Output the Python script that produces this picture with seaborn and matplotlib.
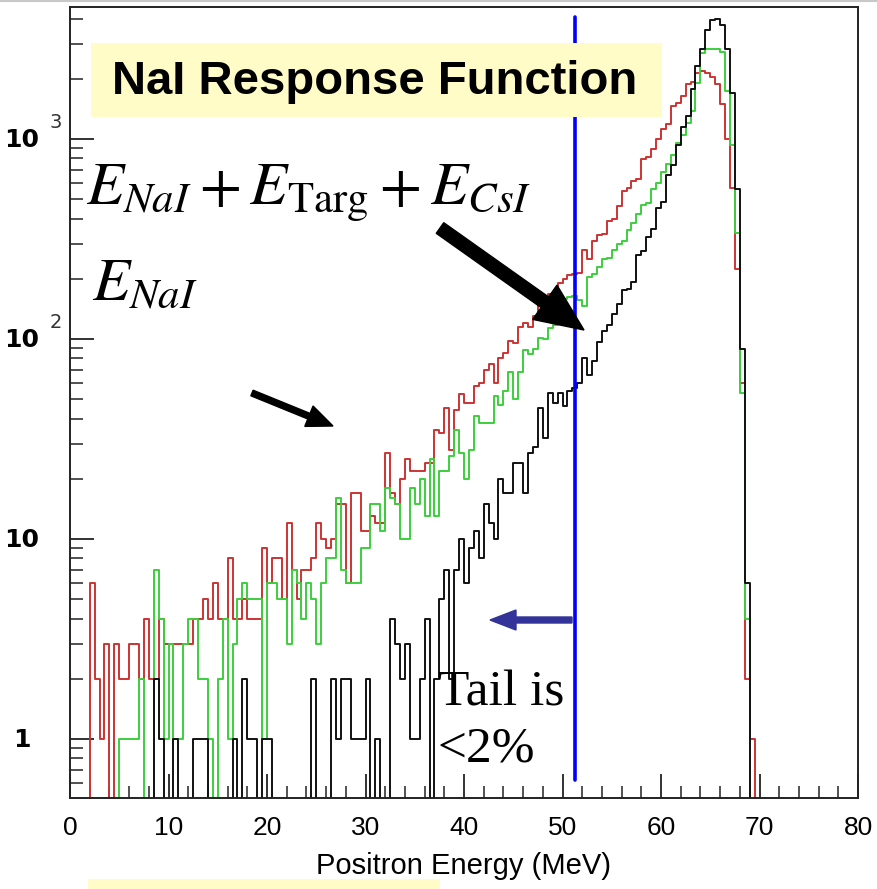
import numpy as np
import pandas as pd
import seaborn as sns
import matplotlib
matplotlib.use("Agg")
import matplotlib.pyplot as plt
from matplotlib.patches import Rectangle, FancyArrow
from matplotlib.lines import Line2D
from matplotlib.ticker import MultipleLocator, NullFormatter, LogLocator
from matplotlib import font_manager

# ---------------- data: counts per 0.5 MeV bin, from 0 to 80 MeV ----------------
bin_width = 0.5
energy_edges = [i * bin_width for i in range(161)]

# red histogram (per bin, starting at 0 MeV)
red_counts = [
    0, 0, 0, 0, 6, 2, 1, 3, 0, 3,            # 0 - 4.5
    2, 2, 3, 3, 2, 4, 2, 2, 4, 3,            # 5 - 9.5
    3, 3, 3, 3, 3, 4, 4, 5, 4, 6,            # 10 - 14.5
    4, 4, 8, 4, 4, 5, 4, 4, 4, 9,            # 15 - 19.5
    6, 8, 8, 5, 12, 7, 5, 7, 7, 8,           # 20 - 24.5
    12, 10, 9, 10, 15, 15, 6, 17, 17, 11,    # 25 - 29.5
    11, 13, 12, 12, 27, 17, 15, 20, 25, 22,  # 30 - 34.5
    22, 22, 24, 24, 35, 34, 45, 28, 44, 53,  # 35 - 39.5
    48, 48, 58, 60, 70, 75, 60, 80, 85, 98,  # 40 - 44.5
    96, 115, 120, 115, 130, 150, 135, 168, 140, 190,        # 45 - 49.5
    200, 210, 212, 215, 280, 250, 310, 330, 335, 390,       # 50 - 54.5
    400, 465, 550, 570, 620, 630, 790, 810, 890, 1000,      # 55 - 59.5
    1120, 1190, 1470, 1520, 1650, 1880, 1920, 2150, 2200, 2150,  # 60 - 64.5
    2050, 1880, 1500, 1000, 570, 225, 60, 2, 1, 0,          # 65 - 69.5
    0, 0, 0, 0, 0, 0, 0, 0, 0, 0,            # 70 - 74.5
    0, 0, 0, 0, 0, 0, 0, 0, 0, 0,            # 75 - 79.5
]

# green histogram
green_counts = [
    0, 0, 0, 0, 0, 0, 0, 0, 0, 0,            # 0 - 4.5
    1, 1, 1, 1, 2, 0, 0, 7, 4, 1,            # 5 - 9.5
    3, 1, 1, 3, 4, 4, 2, 2, 1, 0,            # 10 - 14.5
    2, 4, 1, 3, 5, 6, 5, 5, 5, 1,            # 15 - 19.5
    6, 6, 5, 5, 3, 7, 6, 4, 6, 5,            # 20 - 24.5
    3, 6, 8, 8, 16, 7, 6, 6, 6, 9,           # 25 - 29.5
    9, 15, 15, 11, 18, 16, 15, 10, 10, 18,   # 30 - 34.5
    15, 20, 13, 25, 13, 22, 22, 26, 35, 27,  # 35 - 39.5
    20, 28, 41, 38, 38, 38, 52, 47, 55, 68,  # 40 - 44.5
    50, 68, 88, 84, 89, 101, 100, 114, 117, 147,            # 45 - 49.5
    158, 162, 165, 157, 147, 205, 212, 230, 250, 255,       # 50 - 54.5
    280, 300, 310, 350, 380, 420, 470, 480, 560, 600,       # 55 - 59.5
    680, 750, 830, 960, 1050, 1200, 1380, 1900, 2700, 2830, # 60 - 64.5
    2830, 2830, 2720, 1740, 930, 340, 54, 4, 0, 0,          # 65 - 69.5
    0, 0, 0, 0, 0, 0, 0, 0, 0, 0,            # 70 - 74.5
    0, 0, 0, 0, 0, 0, 0, 0, 0, 0,            # 75 - 79.5
]

# black histogram
black_counts = [
    0, 0, 0, 0, 0, 0, 0, 0, 0, 0,            # 0 - 4.5
    0, 0, 0, 0, 0, 0, 0, 2, 1, 0,            # 5 - 9.5
    0, 1, 0, 0, 0, 1, 1, 1, 0, 0,            # 10 - 14.5
    0, 0, 0, 1, 0, 2, 1, 1, 0, 1,            # 15 - 19.5
    1, 0, 0, 0, 0, 0, 0, 0, 0, 2,            # 20 - 24.5
    0, 0, 0, 2, 1, 2, 2, 1, 1, 1,            # 25 - 29.5
    2, 0, 1, 0, 0, 4, 3, 2, 3, 1,            # 30 - 34.5
    1, 2, 4, 0, 2, 5, 7, 2, 7, 10,           # 35 - 39.5
    6, 9, 11, 8, 15, 12, 10, 20, 17, 17,     # 40 - 44.5
    24, 24, 17, 27, 29, 45, 32, 54, 48, 54,  # 45 - 49.5
    46, 55, 57, 60, 80, 66, 78, 97, 110, 117,               # 50 - 54.5
    134, 150, 176, 178, 192, 262, 277, 323, 356, 450,       # 55 - 59.5
    484, 660, 738, 930, 1150, 1300, 1780, 2330, 2830, 3500, # 60 - 64.5
    3940, 4000, 3700, 2830, 1700, 565, 89, 6, 0, 0,         # 65 - 69.5
    0, 0, 0, 0, 0, 0, 0, 0, 0, 0,            # 70 - 74.5
    0, 0, 0, 0, 0, 0, 0, 0, 0, 0,            # 75 - 79.5
]

cut_energy = 51.3            # blue vertical line (MeV)
x_ticks = [0, 10, 20, 30, 40, 50, 60, 70, 80]
y_label_values = [1000, 100, 10, 1]
y_label_main = ["10", "10", "10", "1"]
y_label_exp = ["3", "2", "", ""]

# ---------------- figure ----------------
sns.set_style("white")
plt.rcParams["font.family"] = ["Liberation Sans", "DejaVu Sans"]
plt.rcParams["mathtext.fontset"] = "stix"
plt.rcParams["text.color"] = "black"
plt.rcParams["axes.labelcolor"] = "black"
plt.rcParams["xtick.color"] = "black"
plt.rcParams["ytick.color"] = "black"

# narrow sans for the axis texts if available
installed = {f.name for f in font_manager.fontManager.ttflist}
if "Liberation Sans Narrow" in installed:
    axis_family, tick_size, label_size = "Liberation Sans Narrow", 22, 24
else:
    axis_family, tick_size, label_size = "Liberation Sans", 19, 21

W, H = 877, 889
fig = plt.figure(figsize=(W / 100, H / 100), dpi=100)
fig.patch.set_facecolor("white")

AX_L, AX_R, AX_T, AX_B = 70, 858, 7, 798
ax = fig.add_axes([AX_L / W, 1 - AX_B / H, (AX_R - AX_L) / W, (AX_B - AX_T) / H])
ax.set_facecolor("white")

centers = [e + bin_width / 2 for e in energy_edges[:-1]]
df = pd.DataFrame({
    "energy": centers,
    "red": red_counts,
    "green": green_counts,
    "black": black_counts,
})

for col, color in [("red", "#cc3333"), ("green", "#3ccf3c"), ("black", "#111111")]:
    sns.histplot(data=df, x="energy", weights=col, bins=energy_edges,
                 element="step", fill=False, color=color, linewidth=1.4, ax=ax)

ax.set_yscale("log", nonpositive="clip")
ax.set_xlim(0, 80)
y_bottom = 10 ** ((739 - AX_B) / 200)
y_top = 10 ** ((739 - AX_T) / 200)
ax.set_ylim(y_bottom, y_top)
ax.set_ylabel("")
ax.set_xlabel("")

# blue cut line
ax.axvline(cut_energy, ymin=(AX_B - 780) / (AX_B - AX_T), ymax=(AX_B - 17) / (AX_B - AX_T),
           color="#0000ff", linewidth=2.6, zorder=5)

# axes frame and ticks (ROOT style: ticks inside, left/bottom only)
for s in ax.spines.values():
    s.set_color("#222222")
    s.set_linewidth(1.4)
ax.set_xticks(x_ticks)
ax.xaxis.set_minor_locator(MultipleLocator(2))
ax.yaxis.set_major_locator(LogLocator(base=10, numticks=10))
ax.yaxis.set_minor_locator(LogLocator(base=10, subs=np.arange(2, 10), numticks=20))
ax.yaxis.set_major_formatter(NullFormatter())
ax.yaxis.set_minor_formatter(NullFormatter())
ax.tick_params(axis="both", which="both", bottom=True, left=True, top=False, right=False)
ax.tick_params(axis="both", which="major", direction="in", length=17, width=1.3,
               colors="#222222")
ax.tick_params(axis="both", which="minor", direction="in", length=9, width=1.1,
               colors="#222222")
ax.tick_params(axis="x", which="major", pad=13, labelsize=tick_size, labelcolor="black")
ax.set_xticklabels([str(t) for t in x_ticks], family=axis_family)

ax.set_xlabel("Positron Energy (MeV)", fontsize=label_size, color="black",
              family=axis_family)
ax.xaxis.set_label_coords(0.5, -(866 - AX_B) / (AX_B - AX_T))
ax.xaxis.label.set_verticalalignment("center")


def fx(px):
    return px / W


def fy(py):
    return 1 - py / H


# thin grey rule at the very top
fig.add_artist(Line2D([0, 1], [fy(1), fy(1)], transform=fig.transFigure,
                      color="#c8c8c8", linewidth=1.5, zorder=1))

# y tick labels (ROOT style 10^n)
for v, m, e in zip(y_label_values, y_label_main, y_label_exp):
    py = 739 - 200 * np.log10(v)
    fig.text(fx(22), fy(py + 1), m, ha="center", va="center", fontsize=18,
             fontweight="bold", family="DejaVu Sans", color="black")
    if e:
        fig.text(fx(56), fy(py - 17), e, ha="center", va="center", fontsize=14,
                 family="DejaVu Sans", color="#333333")

# title box
fig.add_artist(Rectangle((fx(91), fy(117)), (662 - 91) / W, (117 - 43) / H,
                         transform=fig.transFigure, facecolor="#fffcc8",
                         edgecolor="none", zorder=6))
fig.text(fx(112), fy(82), "NaI Response Function", fontsize=34, fontweight="bold",
         ha="left", va="center", zorder=7, color="black")
# strip of a yellow box at the bottom edge
fig.add_artist(Rectangle((fx(88), 0), (440 - 88) / W, 10 / H,
                         transform=fig.transFigure, facecolor="#fffcc8",
                         edgecolor="none", zorder=6))

# formula labels
fig.text(fx(86), fy(205), r"$E_{NaI}+E_{\mathrm{Targ}}+E_{CsI}$", fontsize=44,
         ha="left", va="baseline", zorder=7, color="black")
fig.text(fx(92), fy(300), r"$E_{NaI}$", fontsize=44, ha="left", va="baseline",
         zorder=7, color="black")

# annotation text
fig.text(fx(438), fy(705), "Tail is", fontsize=37, family="Liberation Serif",
         ha="left", va="baseline", zorder=7, color="black")
fig.text(fx(438), fy(762), "<2%", fontsize=37, family="Liberation Serif",
         ha="left", va="baseline", zorder=7, color="black")


# arrows (in inches from the lower-left corner)
def arrow(x0, y0, x1, y1, width, hw, hl, color):
    a = FancyArrow(x0 / 100, (H - y0) / 100, (x1 - x0) / 100, -(y1 - y0) / 100,
                   width=width / 100, head_width=hw / 100, head_length=hl / 100,
                   length_includes_head=True, transform=fig.dpi_scale_trans,
                   color=color, zorder=8)
    fig.add_artist(a)


arrow(252, 393, 333, 426, 6, 22, 26, "black")
arrow(440, 228, 584, 330, 13, 42, 48, "black")
arrow(572, 620, 490, 620, 6, 20, 26, "#333399")

fig.savefig("out.png", dpi=100, facecolor="white")
